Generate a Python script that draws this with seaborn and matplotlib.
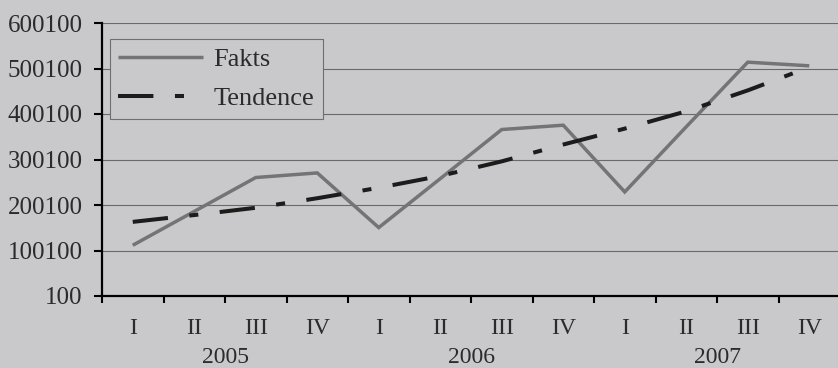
import numpy as np
import pandas as pd
import matplotlib
matplotlib.use("Agg")
import matplotlib.pyplot as plt
from matplotlib.ticker import FixedLocator, NullFormatter
import seaborn as sns

# Quarterly values, 2005-2007
quarters = ["I", "II", "III", "IV", "I", "II", "III", "IV", "I", "II", "III", "IV"]
years = ["2005", "2006", "2007"]
fakts = [111600, 186000, 260500, 270600, 150500, 258000,
         366000, 375500, 228800, 372000, 514000, 506000]
tendence = [163000, 178000, 194000, 215000, 238000, 264000,
            296000, 333000, 368000, 406000, 452000, 503000]
ytick_values = [100, 100100, 200100, 300100, 400100, 500100, 600100]

df = pd.DataFrame({"idx": np.arange(len(quarters)), "Fakts": fakts, "Tendence": tendence})

sns.set_theme(style="white")
bg = "#c9c9cb"
txt = "#2b2b2b"
plt.rcParams["font.family"] = ["Liberation Serif", "DejaVu Serif"]
plt.rcParams["lines.scale_dashes"] = False

fig = plt.figure(figsize=(8.38, 3.68), dpi=100, facecolor=bg)
ax = fig.add_axes([102 / 838, 72 / 368, 738 / 838, 273 / 368])
ax.set_facecolor(bg)

sns.lineplot(data=df, x="idx", y="Fakts", ax=ax, color="#747474", lw=2.5,
             label="Fakts", solid_capstyle="butt", solid_joinstyle="miter")
sns.lineplot(data=df, x="idx", y="Tendence", ax=ax, color="#1c1c1c", lw=2.9,
             label="Tendence", dash_capstyle="butt",
             linestyle=(0, (25.5, 15.5, 6.5, 15.5)))

ax.set_xlim(-0.5, len(quarters) - 0.5)
ax.set_ylim(ytick_values[0], ytick_values[-1])
ax.set_xlabel("")
ax.set_ylabel("")

# y axis
ax.set_yticks(ytick_values)
ax.set_yticklabels([str(v) for v in ytick_values])
ax.yaxis.grid(True, color="#6a6a6a", lw=0.8)
ax.set_axisbelow(True)
ax.tick_params(axis="y", which="major", direction="out", length=6, width=1.5,
               color="black", pad=8, labelsize=18, labelcolor=txt, left=True)

# x axis: boundary ticks, labels centred on each quarter
n = len(quarters)
ax.xaxis.set_major_locator(FixedLocator(np.arange(n + 1) - 0.5))
ax.xaxis.set_major_formatter(NullFormatter())
ax.xaxis.set_minor_locator(FixedLocator(np.arange(n)))
ax.set_xticklabels(quarters, minor=True)
ax.tick_params(axis="x", which="major", direction="out", length=5, width=1.5,
               color="black", bottom=True)
ax.tick_params(axis="x", which="minor", length=0, pad=15.5, labelsize=17,
               labelcolor=txt, bottom=True)

for i, yr in enumerate(years):
    ax.annotate(yr, xy=(i * 4 + 1.5, 0), xycoords=("data", "axes fraction"),
                xytext=(0, -44.5), textcoords="offset points",
                ha="center", va="center", fontsize=17, color=txt)

for side in ["top", "right"]:
    ax.spines[side].set_visible(False)
for side in ["left", "bottom"]:
    ax.spines[side].set_color("black")
    ax.spines[side].set_linewidth(1.6)

leg = ax.legend(loc="upper left", bbox_to_anchor=(0.0108, 0.941), borderaxespad=0,
                fontsize=19, frameon=True, fancybox=False, handlelength=3.2,
                handletextpad=0.4, labelspacing=0.6, borderpad=0.32)
leg.get_frame().set_facecolor(bg)
leg.get_frame().set_edgecolor("#6e6e6e")
leg.get_frame().set_linewidth(0.8)
leg.get_frame().set_alpha(1)
for t in leg.get_texts():
    t.set_color(txt)

fig.savefig("out.png", dpi=100, facecolor=bg)
